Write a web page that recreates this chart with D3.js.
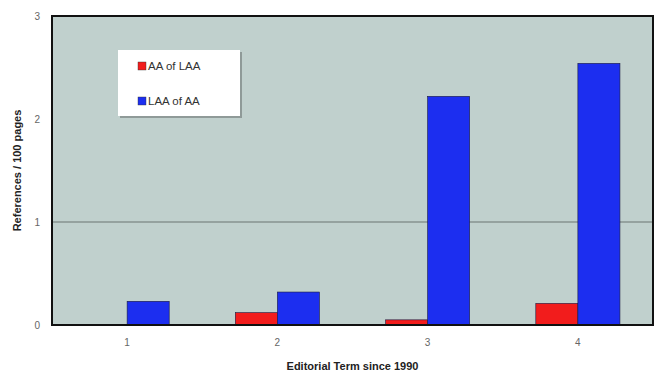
<!DOCTYPE html>
<html><head><meta charset="utf-8">
<script src="https://cdn.jsdelivr.net/npm/d3@7"></script>
<style>body{margin:0;background:#fff;}svg{display:block;font-family:"Liberation Sans",Arial,sans-serif;}</style>
</head><body>
<svg id="c" width="663" height="378"></svg>
<script>
const categories = ["1","2","3","4"];
const seriesNames = ["AA of LAA","LAA of AA"];
const aaOfLaa = [0, 0.12, 0.05, 0.21];
const laaOfAa = [0.23, 0.32, 2.22, 2.54];
const yTicks = [0,1,2,3];
const gridValues = [1];
const colors = ["#f21c1c","#1c2ef0"];

const svg = d3.select("#c");
const m = {l:52, t:16, r:10, b:53};
const W = 663, H = 378;
const x = d3.scaleBand().domain(categories).range([m.l, W-m.r]).paddingInner(0.44).paddingOuter(0.22);
const x1 = d3.scaleBand().domain(seriesNames).range([0, x.bandwidth()]);
const y = d3.scaleLinear().domain([0,3]).range([H-m.b, m.t]);

svg.append("rect").attr("x",m.l).attr("y",m.t).attr("width",W-m.r-m.l).attr("height",H-m.b-m.t).attr("fill","#c0d0cd");

svg.append("g").selectAll("line").data(gridValues).join("line")
  .attr("x1",m.l).attr("x2",W-m.r).attr("y1",d=>y(d)).attr("y2",d=>y(d)).attr("stroke","#6b7472").attr("stroke-width",1.2);

const data = categories.map((c,i)=>({c, vals:[aaOfLaa[i], laaOfAa[i]]}));
const g = svg.append("g");
data.forEach(d=>{
  d.vals.forEach((v,j)=>{
    if(v<=0) return;
    g.append("rect").attr("x",x(d.c)+x1(seriesNames[j])).attr("y",y(v))
      .attr("width",x1.bandwidth()).attr("height",y(0)-y(v))
      .attr("fill",colors[j]).attr("stroke","#1a1a40").attr("stroke-width",0.6);
  });
});

svg.append("rect").attr("x",m.l).attr("y",m.t).attr("width",W-m.r-m.l).attr("height",H-m.b-m.t).attr("fill","none").attr("stroke","#111").attr("stroke-width",2);

const ya = d3.axisLeft(y).tickValues(yTicks).tickSize(0).tickPadding(12).tickFormat(d3.format("d"));
svg.append("g").attr("transform",`translate(${m.l},0)`).call(ya).call(s=>s.select(".domain").remove())
  .selectAll("text").attr("fill","#666").attr("font-size",10);
const xa = d3.axisBottom(x).tickSize(0).tickPadding(14);
svg.append("g").attr("transform",`translate(0,${H-m.b})`).call(xa).call(s=>s.select(".domain").remove())
  .selectAll("text").attr("fill","#666").attr("font-size",10);

svg.append("text").attr("x",(m.l+W-m.r)/2).attr("y",370).attr("text-anchor","middle")
  .attr("font-size",11).attr("font-weight","bold").attr("fill","#222").text("Editorial Term since 1990");
svg.append("text").attr("transform",`translate(21,${(m.t+H-m.b)/2}) rotate(-90)`).attr("text-anchor","middle")
  .attr("font-size",11).attr("font-weight","bold").attr("fill","#222").text("References / 100 pages");

const lg = svg.append("g").attr("transform","translate(118,50)");
lg.append("rect").attr("x",2).attr("y",2).attr("width",122).attr("height",66).attr("fill","#8f9a98");
lg.append("rect").attr("width",122).attr("height",66).attr("fill","#fff");
seriesNames.forEach((n,i)=>{
  lg.append("rect").attr("x",20).attr("y",12+i*35).attr("width",8).attr("height",8).attr("fill",colors[i]).attr("stroke","#333").attr("stroke-width",0.4);
  lg.append("text").attr("x",30).attr("y",20+i*35).attr("font-size",11.5).attr("fill","#333").text(n);
});
</script>
</body></html>
